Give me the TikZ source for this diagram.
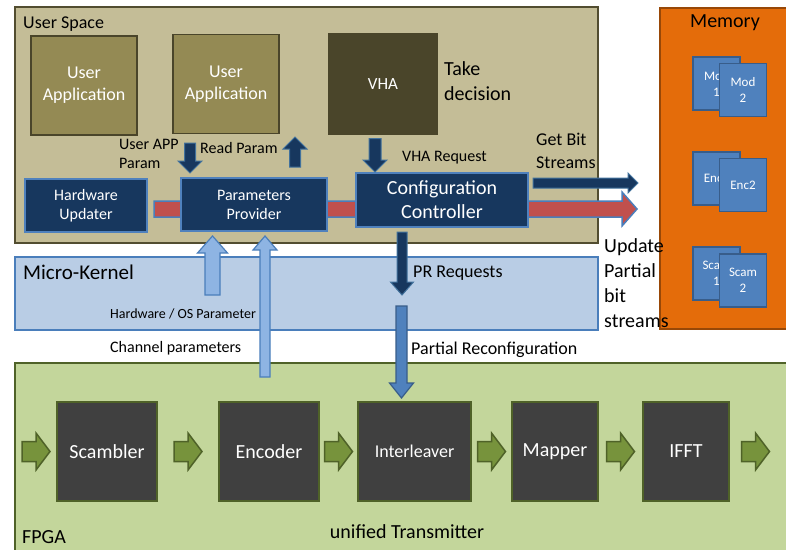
\documentclass[tikz,border=0pt]{standalone}
\usepackage{fontspec}
\setmainfont{Carlito}
\usetikzlibrary{calc,positioning}

\definecolor{usfill}{HTML}{C4BD97}
\definecolor{usdraw}{HTML}{524D30}
\definecolor{appfill}{HTML}{948A54}
\definecolor{appdraw}{HTML}{4A452A}
\definecolor{vhafill}{HTML}{4A452A}
\definecolor{ctrlfill}{HTML}{17375E}
\definecolor{ctrldraw}{HTML}{4F81BD}
\definecolor{kfill}{HTML}{B9CDE5}
\definecolor{kdraw}{HTML}{4A7EBB}
\definecolor{memfill}{HTML}{E46C0A}
\definecolor{memdraw}{HTML}{984807}
\definecolor{modfill}{HTML}{4F81BD}
\definecolor{moddraw}{HTML}{385D8A}
\definecolor{fpfill}{HTML}{C3D69B}
\definecolor{fpdraw}{HTML}{4F6228}
\definecolor{blkfill}{HTML}{404040}
\definecolor{blkdraw}{HTML}{4F6228}
\definecolor{redfill}{HTML}{C0504D}
\definecolor{reddraw}{HTML}{4A7EBB}
\definecolor{lafill}{HTML}{8EB4E3}
\definecolor{ladraw}{HTML}{4A7EBB}
\definecolor{prfill}{HTML}{4F81BD}
\definecolor{prdraw}{HTML}{385D8A}
\definecolor{grfill}{HTML}{77933C}
\definecolor{grdraw}{HTML}{4F6228}
\definecolor{darrfill}{HTML}{17375E}
\definecolor{darrdraw}{HTML}{41719C}

% block arrow: style, from, to, shaft half width, head half width, head length
\newcommand{\blockarrow}[6]{%
  \coordinate (ba-s) at #2;
  \coordinate (ba-e) at #3;
  \coordinate (ba-c) at ($(ba-e)!#6!(ba-s)$);
  \draw[#1] ($(ba-s)!#4!90:(ba-e)$) -- ($(ba-c)!#4!-90:(ba-s)$)
    -- ($(ba-c)!#5!-90:(ba-s)$) -- (ba-e) -- ($(ba-c)!#5!90:(ba-s)$)
    -- ($(ba-c)!#4!90:(ba-s)$) -- ($(ba-s)!#4!-90:(ba-e)$) -- cycle;}
% green arrow centred in a gap
\newcommand{\flowarrow}[2]{%
  \coordinate (fm) at ($#1!.5!#2$);
  \blockarrow{garrow}{($(fm)+(-14,0)$)}{($(fm)+(14,0)$)}{10pt}{18.5pt}{14pt}}

\begin{document}
\begin{tikzpicture}[x=1pt, y=-1pt,
  area/.style={draw, line width=1.6pt, inner sep=0pt, outer sep=0pt},
  box/.style={draw, line width=1.6pt, align=center, inner sep=0pt, outer sep=0pt, text=white},
  uapp/.style={box, fill=appfill, draw=appdraw, minimum width=106pt, minimum height=99pt,
               font=\fontsize{18}{22}\selectfont},
  ctrl/.style={box, fill=ctrlfill, draw=ctrldraw, minimum height=53pt, font=\fontsize{16}{19}\selectfont},
  bits/.style={box, fill=modfill, draw=moddraw, line width=1.2pt, minimum width=47pt,
               minimum height=53pt, font=\fontsize{13}{16}\selectfont},
  blk/.style={box, fill=blkfill, draw=blkdraw, minimum height=99pt, font=\fontsize{20}{24}\selectfont},
  lbl/.style={inner sep=0pt, align=left, font=\fontsize{16}{19}\selectfont},
  darrow/.style={fill=darrfill, draw=darrdraw, line width=1pt},
  redarrow/.style={fill=redfill, draw=reddraw, line width=1.5pt},
  larrow/.style={fill=lafill, draw=ladraw, line width=1.2pt},
  prarrow/.style={fill=prfill, draw=prdraw, line width=1.2pt},
  garrow/.style={fill=grfill, draw=grdraw, line width=1.5pt}
]
\path[use as bounding box, clip] (0,0) rectangle (786,549);

% areas
\node[area, fill=usfill, draw=usdraw, minimum width=583pt, minimum height=236pt] (user) at (306.5,125) {};
\node[area, fill=kfill, draw=kdraw, minimum width=583pt, minimum height=73pt] (kernel) at (306.5,293.5) {};
\node[area, fill=memfill, draw=memdraw, minimum width=130pt, minimum height=321pt] (mem) at (725,168.5) {};
\node[area, fill=fpfill, draw=fpdraw, minimum width=775pt, minimum height=190pt] (fpga) at (402.5,458) {};

% update bus, behind the controllers
\coordinate (bus) at (154,209);
\blockarrow{redarrow}{(bus)}{($(bus -| mem.west)+(-23,0)$)}{8pt}{17pt}{15pt}

% user space
\node[uapp] (app1) at (84,85.5) {User\\Application};
\node[uapp, right=36pt of app1, yshift=1.5pt] (app2) {User\\Application};
\node[box, fill=vhafill, draw=vhafill, minimum width=108pt, minimum height=101pt,
      font=\fontsize{17}{20}\selectfont, right=50pt of app2] (vha) {VHA};
\node[ctrl, minimum width=122pt] (hwupd) at (86,205.5) {Hardware\\Updater};
\node[ctrl, minimum width=146pt, right=34pt of hwupd, yshift=1pt] (params) {Parameters\\Provider};
\node[ctrl, minimum width=172pt, minimum height=54pt, font=\fontsize{20}{24}\selectfont] (cfg) at (442,200) {Configuration\\Controller};

% memory
\node[bits] (mod1) at (716.5,83.5) {Mod\\1};
\node[bits] (mod2) at (743,90) {Mod\\2};
\node[bits] (enc1) at (716.5,178.5) {Enc1};
\node[bits] (enc2) at (743,185) {Enc2};
\node[bits] (scam1) at (716.5,273.5) {Scam\\1};
\node[bits] (scam2) at (743,280.5) {Scam\\2};

% transmitter
\node[blk, minimum width=100pt] (scam) at (107,451.5) {Scambler};
\node[blk, minimum width=100pt, right=62pt of scam] (enc) {Encoder};
\node[blk, minimum width=113pt, right=39pt of enc, font=\fontsize{18}{22}\selectfont] (intl) {Interleaver};
\node[blk, minimum width=86pt, right=41pt of intl] (map) {Mapper};
\node[blk, minimum width=86pt, right=45pt of map] (ifft) {IFFT};

% arrows
\coordinate (uap) at (190,143);
\blockarrow{darrow}{(uap)}{($(uap |- params.north)+(0,-5)$)}{5.5pt}{12pt}{12pt}
\coordinate (rdp) at (295,167);
\coordinate (rdp-top) at (295,137);
\blockarrow{darrow}{(rdp)}{(rdp-top)}{5.5pt}{12pt}{12pt}
\blockarrow{darrow}{($(vha.south)+(-8,4)$)}{($(vha.south |- cfg.north)+(-8,-1)$)}{6pt}{12pt}{12pt}
\blockarrow{darrow}{($(cfg.east)+(5,-17)$)}{($(cfg.east -| mem.west)+(-22,-17)$)}{5pt}{10pt}{10pt}
\coordinate (hwos) at (212.5,295);
\blockarrow{larrow}{(hwos)}{($(hwos |- params.south)+(0,5)$)}{7.5pt}{15pt}{17pt}
\coordinate (chan) at (265,377);
\blockarrow{larrow}{(chan)}{($(chan |- params.south)+(0,5)$)}{5pt}{12pt}{14pt}
\coordinate (prq) at (402,295);
\blockarrow{darrow}{($(prq |- cfg.south)+(0,5)$)}{(prq)}{5pt}{11.5pt}{13pt}
\coordinate (prc) at (401.5,306);
\blockarrow{prarrow}{(prc)}{($(prc |- intl.north)+(0,-4)$)}{5.5pt}{12pt}{15pt}

\coordinate (txin) at (fpga.west |- scam.west);
\coordinate (txout) at (782,451.5);
\flowarrow{(txin)}{(scam.west)}
\flowarrow{(scam.east)}{(enc.west)}
\flowarrow{(enc.east)}{(intl.west)}
\flowarrow{(intl.east)}{(map.west)}
\flowarrow{(map.east)}{(ifft.west)}
\flowarrow{(ifft.east)}{(txout)}

% labels
\node[lbl, font=\fontsize{18}{22}\selectfont, anchor=base west] (uslbl) at (23,28) {User Space};
\node[lbl, font=\fontsize{20}{24.5}\selectfont, anchor=west] (decide) at (444,81) {Take\\decision};
\node[lbl, anchor=west] (uaplbl) at (119,153.5) {User APP\\Param};
\node[lbl, anchor=base west] (rdplbl) at (200,153) {Read Param};
\node[lbl, anchor=base west] (vhalbl) at (402,161) {VHA Request};
\node[lbl, font=\fontsize{18}{22.5}\selectfont, anchor=west] (bitslbl) at (536,151) {Get Bit\\Streams};
\node[lbl, font=\fontsize{21}{25}\selectfont, anchor=base west] (mklbl) at (23,279) {Micro-Kernel};
\node[lbl, font=\fontsize{18}{22}\selectfont, anchor=base west] (prqlbl) at (413,277) {PR Requests};
\node[lbl, font=\fontsize{14}{17}\selectfont, anchor=base west] (hwoslbl) at (110,318) {Hardware / OS Parameter};
\node[lbl, anchor=base west] (chanlbl) at (110,352) {Channel parameters};
\node[lbl, font=\fontsize{18}{22}\selectfont, anchor=base west] (prclbl) at (411,354) {Partial Reconfiguration};
\node[lbl, font=\fontsize{20}{25}\selectfont, anchor=west] (updlbl) at (604,283) {Update\\Partial\\bit\\streams};
\node[lbl, font=\fontsize{20}{24}\selectfont, anchor=base] (memlbl) at (725,27) {Memory};
\node[lbl, font=\fontsize{20}{24}\selectfont, anchor=base west] (fpgalbl) at (22,543) {FPGA};
\node[lbl, font=\fontsize{20}{24}\selectfont, anchor=base] (txlbl) at (407,538) {unified Transmitter};
\end{tikzpicture}
\end{document}
